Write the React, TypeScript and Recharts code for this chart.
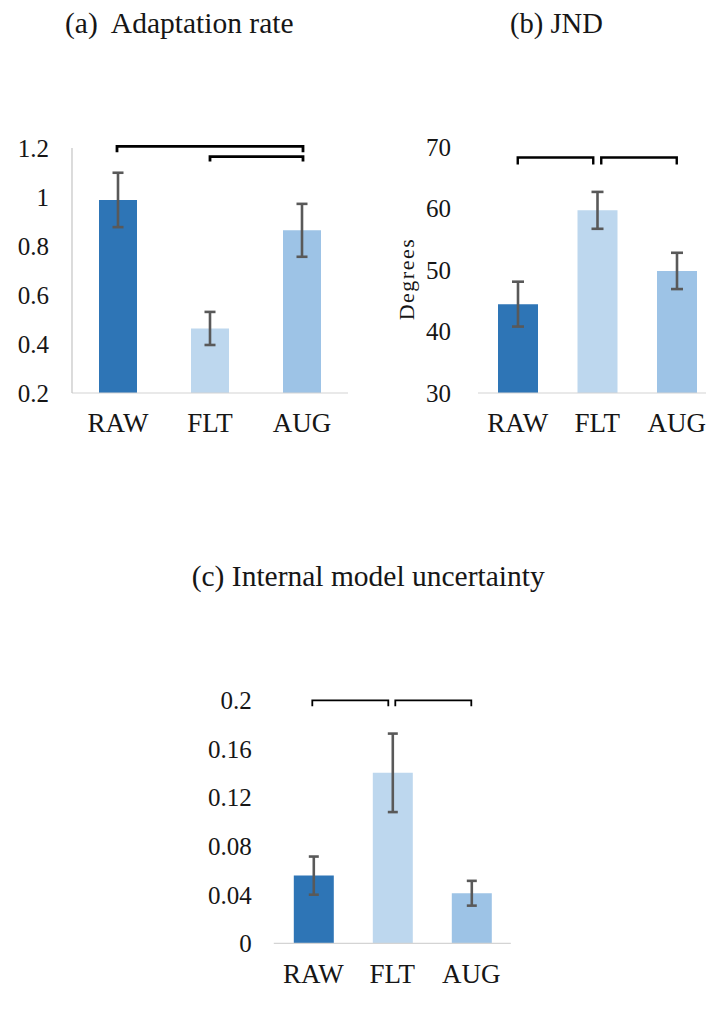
import React from 'react';
import { BarChart, Bar, XAxis, YAxis, ErrorBar, Cell, ReferenceLine } from 'recharts';

// ---------- data ----------
const categories = ['RAW', 'FLT', 'AUG'];
const barColors = ['#2e75b6', '#bdd7ee', '#9dc3e6'];

const adaptationRate = [0.988, 0.4635, 0.864];
const adaptationErr = [0.111, 0.0675, 0.108];
const adaptationTicks = [0.2, 0.4, 0.6, 0.8, 1, 1.2];

const jnd = [44.45, 59.7, 49.85];
const jndErr = [3.65, 3.0, 2.95];
const jndTicks = [30, 40, 50, 60, 70];

const uncertainty = [0.0557, 0.1403, 0.0412];
const uncertaintyErr = [0.0157, 0.0323, 0.0102];
const uncertaintyTicks = [0, 0.04, 0.08, 0.12, 0.16, 0.2];

const bracketsA = [
  { from: 'RAW', to: 'AUG', y: 1.207 },
  { from: 'FLT', to: 'AUG', y: 1.165 },
];
const bracketsB = [
  { from: 'RAW', to: 'FLT', y: 68.3 },
  { from: 'FLT', to: 'AUG', y: 68.3 },
];
const bracketsC = [
  { from: 'RAW', to: 'FLT', y: 0.2 },
  { from: 'FLT', to: 'AUG', y: 0.2 },
];

const titles = ['(a)  Adaptation rate', '(b) JND', '(c) Internal model uncertainty'];

// ---------- styling ----------
const FONT = "'Liberation Serif', serif";
const TEXT = '#161616';

const makeBracket = (tick: number, sw: number, insetL: number, insetR: number) => (props: any) => {
  const { x1, y1, x2 } = props;
  if (x1 == null || y1 == null || x2 == null) return null;
  const l = Math.min(x1, x2) + insetL;
  const r = Math.max(x1, x2) - insetR;
  return (
    <path
      d={`M${l},${y1 + tick}V${y1}H${r}V${y1 + tick}`}
      fill="none"
      stroke="#000"
      strokeWidth={sw}
    />
  );
};

type BracketStyle = { tick: number; sw: number; insetL: number; insetR: number };

type PanelProps = {
  left: number;
  top: number;
  width: number;
  height: number;
  margin: { top: number; right: number; bottom: number; left: number };
  yWidth: number;
  values: number[];
  errs: number[];
  ticks: number[];
  domain: [number, number];
  barSize: number;
  brackets: { from: string; to: string; y: number }[];
  bracketStyles: BracketStyle[];
  yAxisLine: boolean;
  yTickMargin: number;
  xTickMargin: number;
  capWidth: number;
  yLabel?: any;
};

function Panel(p: PanelProps) {
  const data = categories.map((name, i) => ({ name, value: p.values[i], err: p.errs[i] }));
  return (
    <div style={{ position: 'absolute', left: p.left, top: p.top, width: p.width, height: p.height }}>
      <BarChart width={p.width} height={p.height} data={data} margin={p.margin}>
        <XAxis
          dataKey="name"
          interval={0}
          tickLine={false}
          tickSize={0}
          tickMargin={p.xTickMargin}
          axisLine={{ stroke: '#d4d4d4', strokeWidth: 1.2 }}
          tick={{ fontSize: 27, fill: TEXT, fontFamily: FONT }}
        />
        <YAxis
          width={p.yWidth}
          domain={p.domain}
          ticks={p.ticks}
          interval={0}
          allowDataOverflow
          tickLine={false}
          tickSize={0}
          tickMargin={p.yTickMargin}
          axisLine={p.yAxisLine ? { stroke: '#c4c4c4', strokeWidth: 1.2 } : false}
          tick={{ fontSize: 25, fill: TEXT, fontFamily: FONT }}
          label={p.yLabel}
        />
        <Bar dataKey="value" barSize={p.barSize} isAnimationActive={false}>
          {data.map((d, i) => (
            <Cell key={d.name} fill={barColors[i]} />
          ))}
          <ErrorBar
            dataKey="err"
            direction="y"
            width={p.capWidth}
            stroke="#595959"
            strokeWidth={2.6}
            isAnimationActive={false}
          />
        </Bar>
        {p.brackets.map((b, i) => {
          const s = p.bracketStyles[i];
          return (
            <ReferenceLine
              key={i}
              ifOverflow="visible"
              segment={[
                { x: b.from, y: b.y },
                { x: b.to, y: b.y },
              ]}
              shape={makeBracket(s.tick, s.sw, s.insetL, s.insetR)}
            />
          );
        })}
      </BarChart>
    </div>
  );
}

const degreesLabel = (props: any) => {
  const vb = props.viewBox || {};
  const x = (vb.x ?? 0) + (vb.width ?? 0) - 64;
  const y = (vb.y ?? 0) + (vb.height ?? 0) / 2 + 9;
  return (
    <text
      x={x}
      y={y}
      textAnchor="middle"
      transform={`rotate(-90, ${x}, ${y})`}
      fontSize={22}
      letterSpacing={1.5}
      fontFamily={FONT}
      fill={TEXT}
    >
      Degrees
    </text>
  );
};

export default function App() {
  return (
    <div
      style={{
        position: 'absolute',
        left: 0,
        top: 0,
        width: 706,
        height: 1015,
        overflow: 'hidden',
        background: '#ffffff',
      }}
    >
      <svg
        width={706}
        height={1015}
        style={{ position: 'absolute', left: 0, top: 0 }}
      >
        <text x={65} y={33.3} fontSize={29.5} fontFamily={FONT} fill={TEXT} style={{ whiteSpace: 'pre' }}>
          {titles[0]}
        </text>
        <text x={510} y={33.3} fontSize={28.6} fontFamily={FONT} fill={TEXT} style={{ whiteSpace: 'pre' }}>
          {titles[1]}
        </text>
        <text x={191.7} y={585.5} fontSize={29.5} fontFamily={FONT} fill={TEXT} style={{ whiteSpace: 'pre' }}>
          {titles[2]}
        </text>
      </svg>

      <Panel
        left={0}
        top={0}
        width={360}
        height={500}
        margin={{ top: 148, right: 12, bottom: 77, left: 12 }}
        yWidth={60}
        values={adaptationRate}
        errs={adaptationErr}
        ticks={adaptationTicks}
        domain={[0.2, 1.2]}
        barSize={38}
        brackets={bracketsA}
        bracketStyles={[
          { tick: 6, sw: 2.8, insetL: -1, insetR: -1 },
          { tick: 5, sw: 2.8, insetL: 0, insetR: -1 },
        ]}
        yAxisLine={true}
        yTickMargin={23}
        xTickMargin={20}
        capWidth={5.5}
      />

      <Panel
        left={300}
        top={0}
        width={430}
        height={500}
        margin={{ top: 147, right: 13.5, bottom: 77, left: 36 }}
        yWidth={142}
        values={jnd}
        errs={jndErr}
        ticks={jndTicks}
        domain={[30, 70]}
        barSize={40}
        brackets={bracketsB}
        bracketStyles={[
          { tick: 7, sw: 2.4, insetL: 0, insetR: 4 },
          { tick: 7, sw: 2.4, insetL: 4, insetR: 0 },
        ]}
        yAxisLine={false}
        yTickMargin={27}
        xTickMargin={20}
        capWidth={6}
        yLabel={{ value: 'Degrees', content: degreesLabel }}
      />

      <Panel
        left={150}
        top={600}
        width={380}
        height={415}
        margin={{ top: 100.3, right: 19.2, bottom: 41.7, left: 63.8 }}
        yWidth={60}
        values={uncertainty}
        errs={uncertaintyErr}
        ticks={uncertaintyTicks}
        domain={[0, 0.2]}
        barSize={40}
        brackets={bracketsC}
        bracketStyles={[
          { tick: 6, sw: 1.8, insetL: -1, insetR: 4 },
          { tick: 6, sw: 1.8, insetL: 3, insetR: 0 },
        ]}
        yAxisLine={false}
        yTickMargin={22}
        xTickMargin={21}
        capWidth={5}
      />
    </div>
  );
}
